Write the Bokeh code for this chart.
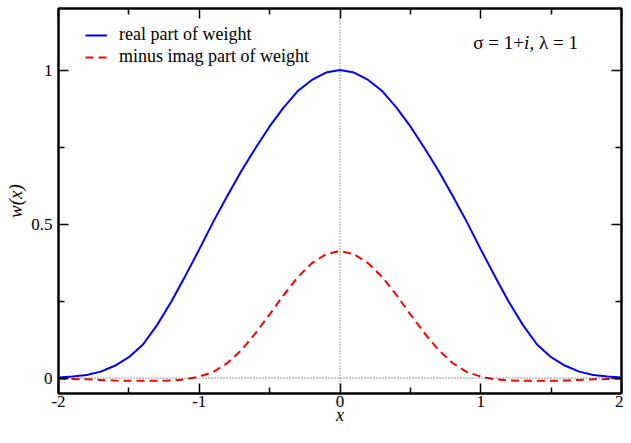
from bokeh.plotting import figure
from bokeh.models import (Range1d, LinearAxis, FixedTicker, Span, Label, Legend)
from bokeh.embed import file_html
from bokeh.resources import INLINE

# ---- data ----
X = [-2.0, -1.9, -1.8, -1.7, -1.6, -1.5, -1.4, -1.3, -1.2, -1.1, -1.0,
     -0.9, -0.8, -0.7, -0.6, -0.5, -0.4, -0.3, -0.2, -0.1, 0.0,
     0.1, 0.2, 0.3, 0.4, 0.5, 0.6, 0.7, 0.8, 0.9, 1.0,
     1.1, 1.2, 1.3, 1.4, 1.5, 1.6, 1.7, 1.8, 1.9, 2.0]
REAL_W = [0.002, 0.005, 0.010, 0.021, 0.040, 0.068, 0.109, 0.172, 0.247, 0.331, 0.418,
          0.508, 0.592, 0.673, 0.747, 0.817, 0.879, 0.932, 0.968, 0.992, 1.000,
          0.992, 0.968, 0.932, 0.879, 0.817, 0.747, 0.673, 0.592, 0.508, 0.418,
          0.331, 0.247, 0.172, 0.109, 0.068, 0.040, 0.021, 0.010, 0.005, 0.002]
MINUS_IMAG_W = [-0.002, -0.003, -0.004, -0.006, -0.008, -0.009, -0.009, -0.009, -0.008, -0.004, 0.005,
                0.020, 0.049, 0.091, 0.146, 0.207, 0.270, 0.328, 0.373, 0.402, 0.413,
                0.402, 0.373, 0.328, 0.270, 0.207, 0.146, 0.091, 0.049, 0.020, 0.005,
                -0.004, -0.008, -0.009, -0.009, -0.009, -0.008, -0.006, -0.004, -0.003, -0.002]

X_TICKS = [-2, -1, 0, 1, 2]
X_TICK_LABELS = ["-2", "-1", "0", "1", "2"]
X_MINOR = [-1.5, -0.5, 0.5, 1.5]
Y_TICKS = [0, 0.5, 1]
Y_TICK_LABELS = ["0", "0.5", "1"]
Y_MINOR = [0.25, 0.75]

SERIES_NAMES = ["real part of weight", "minus imag part of weight"]

FONT = "Liberation Serif"

p = figure(width=623, height=427, output_backend="svg", toolbar_location=None,
           x_range=Range1d(-2, 2), y_range=Range1d(-0.05, 1.2),
           min_border_left=58, min_border_right=2, min_border_top=8, min_border_bottom=31)
p.grid.visible = False
p.outline_line_color = "black"
p.outline_line_width = 2
p.background_fill_color = "white"
p.border_fill_color = "white"

xt = FixedTicker(ticks=X_TICKS, minor_ticks=X_MINOR)
yt = FixedTicker(ticks=Y_TICKS, minor_ticks=Y_MINOR)

def style_axis(ax, ticker, labels, show):
    ax.ticker = ticker
    ax.axis_line_width = 2
    ax.axis_line_color = "black"
    ax.major_tick_in = 10
    ax.major_tick_out = 0
    ax.minor_tick_in = 6
    ax.minor_tick_out = 0
    ax.major_tick_line_width = 1.5
    ax.minor_tick_line_width = 1.5
    ax.major_tick_line_color = "black"
    ax.minor_tick_line_color = "black"
    if show:
        ax.major_label_overrides = {t: l for t, l in zip(ticker.ticks, labels)}
        ax.major_label_text_font = FONT
        ax.major_label_text_font_size = "17px"
        ax.major_label_text_color = "black"
    else:
        ax.major_label_overrides = {t: "" for t in ticker.ticks}
        ax.major_label_text_font_size = "0px"
        ax.major_label_standoff = 0

xa = p.xaxis[0]
ya = p.yaxis[0]
style_axis(xa, xt, X_TICK_LABELS, True)
style_axis(ya, yt, Y_TICK_LABELS, True)
xa.major_label_standoff = 2
xa.axis_label = "x"
xa.axis_label_text_font = FONT
xa.axis_label_text_font_style = "italic"
xa.axis_label_text_font_size = "18px"
xa.axis_label_standoff = -5
xa.axis_label_text_color = "black"

ya.major_label_standoff = 6
ya.axis_label = "w(x)"
ya.axis_label_text_font = FONT
ya.axis_label_text_font_style = "italic"
ya.axis_label_text_font_size = "19px"
ya.axis_label_standoff = 2
ya.axis_label_text_color = "black"

top = LinearAxis()
right = LinearAxis()
style_axis(top, xt, X_TICK_LABELS, False)
style_axis(right, yt, Y_TICK_LABELS, False)
p.add_layout(top, "above")
p.add_layout(right, "right")

# zero reference lines
p.add_layout(Span(location=0, dimension="height", line_color="#333333",
                  line_width=1, line_dash="1 2"))
p.add_layout(Span(location=0, dimension="width", line_color="#333333",
                  line_width=1, line_dash="1 2"))

r1 = p.line(X, REAL_W, line_color="#0000ff", line_width=2)
r2 = p.line(X, MINUS_IMAG_W, line_color="#ff0000", line_width=2, line_dash="8 5")

legend = Legend(items=[(SERIES_NAMES[0], [r1]), (SERIES_NAMES[1], [r2])],
                location=(27, 326), padding=0, margin=0, spacing=1,
                glyph_width=22, glyph_height=20, label_height=20,
                label_standoff=12, border_line_color=None,
                background_fill_alpha=0,
                label_text_font=FONT, label_text_font_size="18px",
                label_text_color="black")
p.add_layout(legend, "center")

# annotation: sigma = 1+i, lambda = 1
ann_x = 1.307
ann_y = 1.09
p.add_layout(Label(x=ann_x, y=ann_y, text="\u03c3 = 1+", text_font=FONT,
                   text_font_size="19px", text_align="right",
                   text_baseline="alphabetic", text_color="black"))
p.add_layout(Label(x=ann_x, y=ann_y, text="i", text_font=FONT,
                   text_font_style="italic", text_font_size="19px",
                   text_align="left", text_baseline="alphabetic", text_color="black"))
p.add_layout(Label(x=ann_x, y=ann_y, x_offset=5.5, text=", \u03bb = 1", text_font=FONT,
                   text_font_size="19px", text_align="left",
                   text_baseline="alphabetic", text_color="black"))

open("out.html", "w").write(file_html(p, INLINE))
